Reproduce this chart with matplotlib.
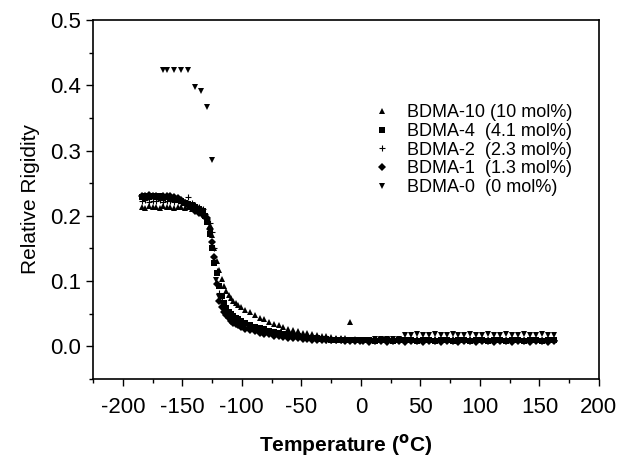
import matplotlib
matplotlib.use('Agg')
import matplotlib.pyplot as plt
from matplotlib.ticker import MultipleLocator

plt.rcParams['font.family'] = ['Liberation Sans', 'DejaVu Sans']
plt.rcParams['axes.unicode_minus'] = False

# ---------------------------------------------------------------------------
# Data (temperature in deg C, relative rigidity)
# ---------------------------------------------------------------------------
T_PLATEAU = [-184, -181, -178, -175, -172, -169, -166, -163, -160, -157,
             -154, -151, -148, -145, -142, -139, -136, -133]
T_TRANS = [-131, -129, -127, -125, -123, -121, -119, -117, -115, -113,
           -111, -109, -107, -105, -103, -101]
T_DECAY = [-97, -93, -89, -85, -81, -77, -73, -69, -65, -61, -57, -53, -49,
           -45, -41, -37, -33, -29, -25, -21, -17, -13, -9, -5, -1]
T_TAIL = [2, 7, 12, 17, 22, 27, 32, 37, 42, 47, 52, 57, 62, 67, 72, 77, 82,
          87, 92, 97, 102, 107, 112, 117, 122, 127, 132, 137, 142, 147, 152,
          157, 162]
T_COP = T_PLATEAU + T_TRANS + T_DECAY + T_TAIL

T0_HEAD = [-166, -163, -157, -151, -145, -139, -134, -129, -125, -122]
T_BDMA0 = T0_HEAD + T_TRANS[6:] + T_DECAY + T_TAIL

R_BDMA10 = [0.214, 0.212, 0.215, 0.213, 0.214, 0.212, 0.215, 0.213, 0.214, 0.212,
            0.213, 0.214, 0.212, 0.213, 0.211, 0.212, 0.210, 0.208,
            0.203, 0.196, 0.186, 0.170, 0.150, 0.130, 0.117, 0.103, 0.092, 0.085,
            0.079, 0.074, 0.069, 0.066, 0.063, 0.060,
            0.056, 0.052, 0.048, 0.044, 0.041, 0.037, 0.034, 0.032, 0.029, 0.027,
            0.025, 0.023, 0.021, 0.020, 0.019, 0.017, 0.016, 0.015, 0.014, 0.013,
            0.012, 0.012, 0.037, 0.011, 0.010,
            0.010, 0.010, 0.010, 0.009, 0.010, 0.010, 0.009, 0.010, 0.010, 0.011,
            0.010, 0.010, 0.011, 0.010, 0.010, 0.011, 0.010, 0.010, 0.011, 0.010,
            0.011, 0.010, 0.010, 0.011, 0.010, 0.011, 0.010, 0.010, 0.011, 0.010,
            0.010, 0.011, 0.010]

R_BDMA4 = [0.229, 0.230, 0.229, 0.231, 0.229, 0.230, 0.228, 0.229, 0.227, 0.226,
           0.224, 0.222, 0.220, 0.218, 0.216, 0.214, 0.211, 0.207,
           0.200, 0.190, 0.172, 0.150, 0.128, 0.112, 0.092, 0.077, 0.066, 0.058,
           0.053, 0.049, 0.046, 0.043, 0.041, 0.039,
           0.036, 0.033, 0.030, 0.028, 0.026, 0.024, 0.022, 0.020, 0.019, 0.017,
           0.016, 0.015, 0.014, 0.013, 0.012, 0.012, 0.011, 0.011, 0.010, 0.010,
           0.010, 0.009, 0.009, 0.009, 0.009,
           0.009, 0.009, 0.008, 0.009, 0.009, 0.008, 0.009, 0.009, 0.009, 0.008,
           0.009, 0.009, 0.008, 0.009, 0.009, 0.008, 0.009, 0.009, 0.008, 0.009,
           0.009, 0.008, 0.009, 0.009, 0.008, 0.009, 0.009, 0.008, 0.009, 0.009,
           0.008, 0.009, 0.009]

R_BDMA2 = [0.222, 0.224, 0.221, 0.223, 0.222, 0.224, 0.221, 0.223, 0.222, 0.221,
           0.223, 0.220, 0.221, 0.229, 0.219, 0.217, 0.214, 0.210,
           0.203, 0.195, 0.189, 0.175, 0.150, 0.115, 0.081, 0.070, 0.062, 0.056,
           0.051, 0.047, 0.043, 0.041, 0.039, 0.037,
           0.034, 0.031, 0.029, 0.026, 0.024, 0.022, 0.020, 0.019, 0.017, 0.016,
           0.015, 0.014, 0.013, 0.012, 0.012, 0.011, 0.011, 0.010, 0.010, 0.010,
           0.009, 0.009, 0.009, 0.009, 0.009,
           0.010, 0.009, 0.010, 0.010, 0.009, 0.010, 0.010, 0.009, 0.010, 0.010,
           0.009, 0.010, 0.010, 0.009, 0.010, 0.010, 0.009, 0.010, 0.010, 0.009,
           0.010, 0.010, 0.009, 0.010, 0.010, 0.009, 0.010, 0.010, 0.009, 0.010,
           0.010, 0.009, 0.010]

R_BDMA1 = [0.231, 0.230, 0.232, 0.230, 0.231, 0.229, 0.231, 0.230, 0.231, 0.229,
           0.228, 0.224, 0.220, 0.216, 0.212, 0.208, 0.205, 0.201,
           0.198, 0.196, 0.180, 0.160, 0.137, 0.095, 0.070, 0.060, 0.053, 0.048,
           0.043, 0.039, 0.036, 0.034, 0.032, 0.030,
           0.027, 0.025, 0.023, 0.021, 0.019, 0.018, 0.016, 0.015, 0.014, 0.013,
           0.012, 0.012, 0.011, 0.011, 0.010, 0.010, 0.010, 0.009, 0.009, 0.009,
           0.009, 0.008, 0.008, 0.008, 0.008,
           0.008, 0.007, 0.008, 0.008, 0.007, 0.008, 0.008, 0.007, 0.008, 0.008,
           0.007, 0.008, 0.008, 0.007, 0.008, 0.008, 0.007, 0.008, 0.008, 0.007,
           0.008, 0.008, 0.007, 0.008, 0.008, 0.007, 0.008, 0.008, 0.007, 0.008,
           0.008, 0.007, 0.008]

R_BDMA0 = [0.424, 0.423, 0.423, 0.423, 0.423, 0.397, 0.391, 0.367, 0.286, 0.102,
           0.076, 0.064, 0.057, 0.051, 0.046, 0.042, 0.039, 0.037, 0.035, 0.033,
           0.030, 0.028, 0.026, 0.024, 0.022, 0.020, 0.019, 0.017, 0.016, 0.015,
           0.014, 0.013, 0.012, 0.012, 0.011, 0.011, 0.010, 0.010, 0.010, 0.010,
           0.009, 0.009, 0.010, 0.010, 0.010,
           0.010, 0.010, 0.011, 0.011, 0.011, 0.011, 0.011, 0.017, 0.017, 0.018,
           0.017, 0.017, 0.018, 0.017, 0.017, 0.018, 0.017, 0.017, 0.018, 0.017,
           0.017, 0.018, 0.017, 0.017, 0.018, 0.017, 0.017, 0.018, 0.017, 0.017,
           0.018, 0.017, 0.017]

LABELS = ['BDMA-10 (10 mol%)', 'BDMA-4  (4.1 mol%)', 'BDMA-2  (2.3 mol%)',
          'BDMA-1  (1.3 mol%)', 'BDMA-0  (0 mol%)']

# ---------------------------------------------------------------------------
# Figure
# ---------------------------------------------------------------------------
fig = plt.figure(figsize=(6.2, 4.57), dpi=100)
ax = fig.add_axes([0.150, 0.171, 0.816, 0.785])

ax.plot(T_COP, R_BDMA10, '^', color='black', ms=5, mew=0, label=LABELS[0])
ax.plot(T_COP, R_BDMA4, 's', color='black', ms=4, mew=0, label=LABELS[1])
ax.plot(T_COP, R_BDMA2, '+', color='black', ms=5, mew=0.8, label=LABELS[2])
ax.plot(T_COP, R_BDMA1, 'D', color='black', ms=4, mew=0, label=LABELS[3])
ax.plot(T_BDMA0, R_BDMA0, 'v', color='black', ms=5, mew=0, label=LABELS[4])

ax.set_xlim(-225, 200)
ax.set_ylim(-0.05, 0.5)
ax.xaxis.set_major_locator(MultipleLocator(50))
ax.xaxis.set_minor_locator(MultipleLocator(25))
ax.yaxis.set_major_locator(MultipleLocator(0.1))
ax.yaxis.set_minor_locator(MultipleLocator(0.05))
ax.set_yticks([0.0, 0.1, 0.2, 0.3, 0.4, 0.5])
ax.set_yticklabels(['0.0', '0.1', '0.2', '0.3', '0.4', '0.5'])
ax.tick_params(which='major', direction='out', length=5, width=1, labelsize=16)
ax.tick_params(axis='x', which='major', pad=8)
ax.tick_params(which='minor', direction='out', length=3, width=1)
ax.tick_params(top=False, right=False, which='both')
for sp in ax.spines.values():
    sp.set_linewidth(1.2)

ax.set_xlabel('Temperature ($^{\\mathbf{o}}$C)', fontsize=15, fontweight='bold', labelpad=10)
ax.set_ylabel('Relative Rigidity', fontsize=15, labelpad=7)

ax.legend(loc='upper left', bbox_to_anchor=(0.553, 0.766), frameon=False,
          fontsize=13, numpoints=1, handlelength=1.0, handletextpad=0.9,
          labelspacing=0.1, borderaxespad=0, borderpad=0)

fig.savefig('out.png', dpi=100)
